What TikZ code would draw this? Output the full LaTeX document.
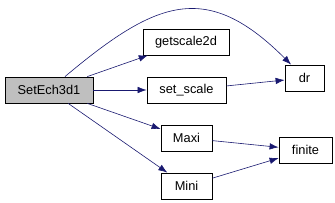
\documentclass[tikz,border=0pt]{standalone}
\usepackage{fontspec}
\setmainfont{Liberation Sans}
\usetikzlibrary{arrows.meta}
\definecolor{edgecolor}{RGB}{25,25,112}
\definecolor{rootcolor}{RGB}{191,191,191}

\begin{document}
\begin{tikzpicture}[x=1pt, y=1pt,
    fnbox/.style={draw, line width=0.8pt, minimum height=26pt, inner sep=0pt,
                  font=\fontsize{12.8}{14}\selectfont},
    call/.style={-{Latex[length=9pt,width=6.5pt]}, draw=edgecolor, line width=0.6pt}]
            \useasboundingbox (0,0) rectangle (335,202);

            % Caller
            \node[fnbox, fill=rootcolor, minimum width=88pt] (setech) at (49,112) {SetEch3d1};

            % Callees
            \node[fnbox, minimum width=86pt] (getscale) at (186,160) {getscale2d};
            \node[fnbox, minimum width=79pt] (setscale) at (186.5,112) {set\_scale};
            \node[fnbox, minimum width=51pt] (maxi) at (186.5,64) {Maxi};
            \node[fnbox, minimum width=51pt] (mini) at (186.5,16) {Mini};

            % Leaves
            \node[fnbox, minimum width=39pt] (dr) at (304.5,124) {dr};
            \node[fnbox, minimum width=53pt] (finite) at (305.5,52) {finite};

            % Arrows
            \draw[call] (setech) to[out=40, in=135, looseness=1.35] (dr);
            \draw[call] (setech) -- (getscale);
            \draw[call] (setech) -- (setscale);
            \draw[call] (setech) -- (maxi);
            \draw[call] (setech) -- (mini);
            \draw[call] (setscale) -- (dr);
            \draw[call] (maxi) -- (finite);
            \draw[call] (mini) -- (finite);
        \end{tikzpicture}
\end{document}
